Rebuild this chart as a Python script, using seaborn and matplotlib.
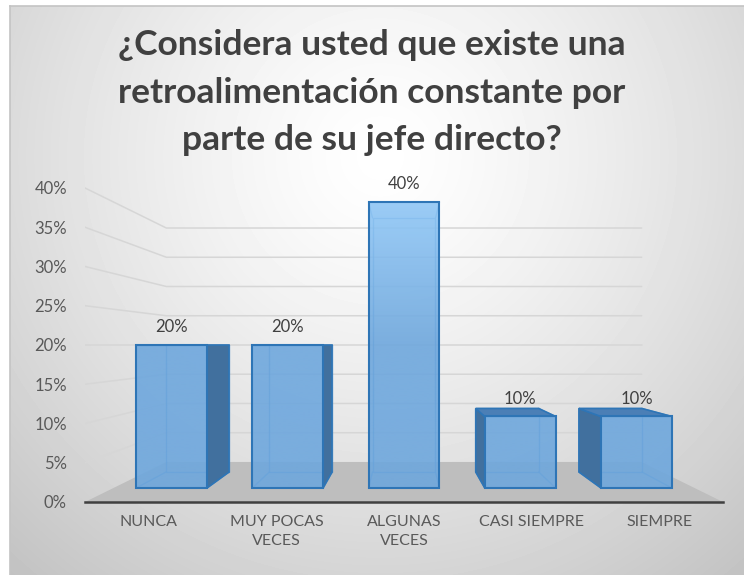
import numpy as np
import matplotlib
matplotlib.use("Agg")
import matplotlib.pyplot as plt
from matplotlib.patches import Polygon
from matplotlib.colors import to_rgb
import seaborn as sns

# ---------------- data ----------------
categories = ["NUNCA", "MUY POCAS\nVECES", "ALGUNAS\nVECES", "CASI SIEMPRE", "SIEMPRE"]
values = [0.20, 0.20, 0.40, 0.10, 0.10]
y_ticks = [0.0, 0.05, 0.10, 0.15, 0.20, 0.25, 0.30, 0.35, 0.40]
y_tick_labels = ["0%", "5%", "10%", "15%", "20%", "25%", "30%", "35%", "40%"]
title = "¿Considera usted que existe una\nretroalimentación constante por\nparte de su jefe directo?"

sns.set_style("white")
plt.rcParams["font.family"] = ["Lato", "DejaVu Sans"]

# perspective settings (vanishing point in front-plane data coords)
XV, YV = 2.0, 0.20
T_FRONT, T_BACK, T_BAR = -0.098, 0.182, 0.112
BAR_W = 0.61


def proj(x, y, t):
    s = 1.0 - t
    return (XV + (x - XV) * s, YV + (y - YV) * s)


W, H = 744, 575
fig = plt.figure(figsize=(W / 100, H / 100), dpi=100)

# background with soft radial gradient
bg = fig.add_axes([10 / W, 0, (W - 10) / W, (H - 6) / H])
bw, bh = W - 10, H - 6
yy, xx = np.mgrid[0:bh, 0:bw]
d = np.hypot(xx - 370, yy - 150)
val = 1 - 0.24 * (d / d.max()) ** 1.3
bg.imshow(val, cmap="gray", vmin=0, vmax=1, aspect="auto", interpolation="bilinear")
bg.set_xticks([])
bg.set_yticks([])
for side in ["right", "bottom"]:
    bg.spines[side].set_visible(False)
for side in ["top", "left"]:
    bg.spines[side].set_color("#c4c4c4")
    bg.spines[side].set_linewidth(1.2)

# main axes (front plane coordinates)
ax = fig.add_axes([85 / W, (H - 502) / H, 638 / W, 332 / H])
ax.patch.set_alpha(0)

xl0 = proj(-0.5, 0, T_FRONT)[0]
xl1 = proj(4.5, 0, T_FRONT)[0]
yl0 = proj(0, 0, T_FRONT)[1]
yl1 = yl0 + 332 / 715

# floor
floor = [proj(-0.5, 0, T_FRONT), proj(4.5, 0, T_FRONT), proj(4.5, 0, T_BACK), proj(-0.5, 0, T_BACK)]
ax.add_patch(Polygon(floor, closed=True, facecolor="#bebebe", edgecolor="none", zorder=1))

# gridlines on back wall and left wall
for v in y_ticks[1:]:
    a = proj(-0.5, v, T_FRONT)
    b = proj(-0.5, v, T_BACK)
    c = proj(4.5, v, T_BACK)
    ax.plot([a[0], b[0], c[0]], [a[1], b[1], c[1]], color="#d6d6d6", lw=1.1, zorder=1.5,
            solid_joinstyle="miter")

FRONT_C = "#6ea7dd"
FRONT_LIGHT = "#90c7f6"
EDGE_C = "#2e75b6"
SIDE_C = "#41709e"
TOP_C = "#4b7fb6"

# hidden edges and side/top faces
for i, v in enumerate(values):
    x0, x1 = i - BAR_W / 2, i + BAR_W / 2
    back = [proj(x0, 0, T_BAR), proj(x1, 0, T_BAR), proj(x1, v, T_BAR), proj(x0, v, T_BAR)]
    ax.add_patch(Polygon(back, closed=True, fill=False, edgecolor="#3b82c4", lw=1.0, alpha=0.7, zorder=2))
    for (cx, cy) in [(x0, 0), (x1, 0), (x1, v), (x0, v)]:
        p0 = proj(cx, cy, 0)
        p1 = proj(cx, cy, T_BAR)
        ax.plot([p0[0], p1[0]], [p0[1], p1[1]], color="#3b82c4", lw=1.0, alpha=0.7, zorder=2)
    if i < XV:
        side = [proj(x1, 0, 0), proj(x1, v, 0), proj(x1, v, T_BAR), proj(x1, 0, T_BAR)]
        ax.add_patch(Polygon(side, closed=True, facecolor=SIDE_C, edgecolor=EDGE_C, lw=1.2, zorder=3))
    elif i > XV:
        side = [proj(x0, 0, 0), proj(x0, v, 0), proj(x0, v, T_BAR), proj(x0, 0, T_BAR)]
        ax.add_patch(Polygon(side, closed=True, facecolor=SIDE_C, edgecolor=EDGE_C, lw=1.2, zorder=3))
    if v < YV:
        top = [proj(x0, v, 0), proj(x1, v, 0), proj(x1, v, T_BAR), proj(x0, v, T_BAR)]
        ax.add_patch(Polygon(top, closed=True, facecolor=TOP_C, edgecolor=EDGE_C, lw=1.2, zorder=3))

# front faces via seaborn
sns.barplot(x=list(range(len(values))), y=values, ax=ax, width=BAR_W, color=FRONT_C,
            saturation=1, edgecolor=EDGE_C, linewidth=1.5, zorder=4, native_scale=True)

# vertical gradient fill of the front faces (lighter higher up)
ys = np.linspace(yl0, yl1, 400)
k = np.clip((ys - 0.2) / 0.2, 0, 1)[:, None, None]
grad = np.array(to_rgb(FRONT_C))[None, None, :] * (1 - k) + np.array(to_rgb(FRONT_LIGHT))[None, None, :] * k
for rect in ax.containers[0]:
    rect.set_facecolor("none")
    im = ax.imshow(grad, extent=(xl0, xl1, yl0, yl1), origin="lower", aspect="auto",
                   zorder=3.9, alpha=0.9, interpolation="bilinear")
    im.set_clip_path(rect)

# data labels
for i, v in enumerate(values):
    ax.annotate(f"{round(v * 100)}%", (i, v), xytext=(0, 9), textcoords="offset points",
                ha="center", va="baseline", fontsize=12, color="#404040", zorder=5)

# limits
ax.set_xlim(xl0, xl1)
ax.set_ylim(yl0, yl1)

# y axis
ax.set_yticks([proj(-0.5, v, T_FRONT)[1] for v in y_ticks], y_tick_labels)
ax.tick_params(axis="y", length=0, pad=13, labelsize=12, labelcolor="#595959")

# x axis
ax.set_xticks([proj(i, 0, T_FRONT)[0] for i in range(len(categories))], categories)
ax.set_xticks([proj(i - 0.5, 0, T_FRONT)[0] for i in range(len(categories) + 1)], minor=True)
ax.tick_params(axis="x", which="major", length=0, pad=9, labelsize=11.5, labelcolor="#595959")
ax.tick_params(axis="x", which="minor", length=4, width=1.5, color="#404040", direction="out")
for lbl in ax.get_xticklabels():
    lbl.set_linespacing(1.5)
ax.set_xlabel("")
ax.set_ylabel("")
for side in ["left", "top", "right"]:
    ax.spines[side].set_visible(False)
ax.spines["bottom"].set_color("#404040")
ax.spines["bottom"].set_linewidth(1.8)
ax.grid(False)

fig.text(0.5, 1 - 29 / H, title, ha="center", va="top", fontsize=25.5, fontweight="bold",
         color="#404040", linespacing=1.6)

fig.savefig("out.png", dpi=100)
